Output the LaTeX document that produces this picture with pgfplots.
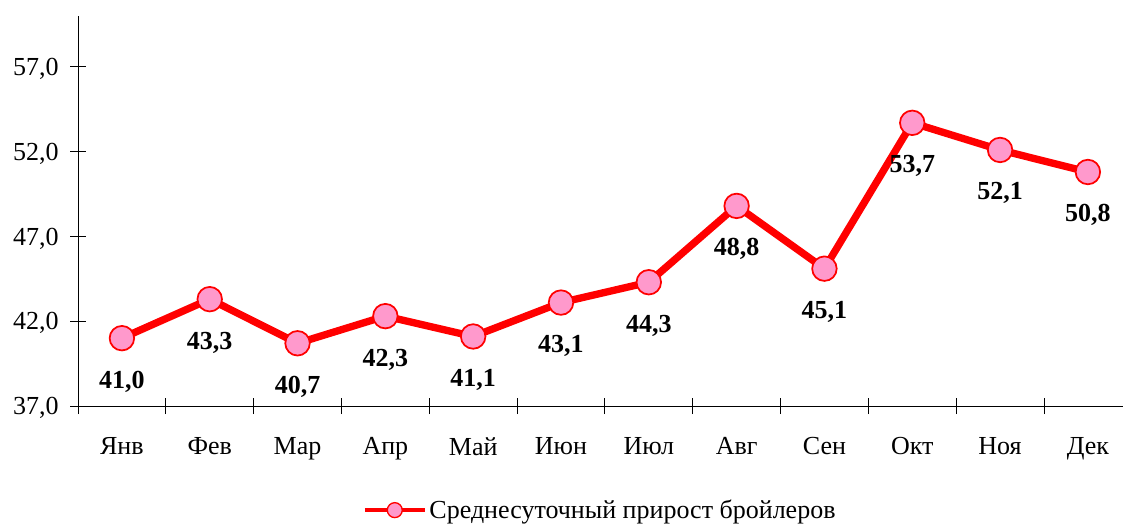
\documentclass[border=0pt]{standalone}
\usepackage{pgfplots}
\pgfplotsset{compat=1.18}
\usepackage{fontspec}
\setmainfont{Liberation Serif}
\definecolor{lred}{HTML}{FF0000}
\definecolor{mpink}{HTML}{FF99CC}
\begin{document}
\begin{tikzpicture}
\useasboundingbox (-58.5pt,-89.25pt) rectangle (783.75pt,304.5pt);
\begin{axis}[
  scale only axis,
  width=783.75pt, height=292.5pt,
  xmin=-0.5, xmax=11.40,
  ymin=37, ymax=60,
  axis lines=left,
  axis line style={-, black, line width=0.7pt},
  xtick={0,...,11},
  xticklabels={Янв,Фев,Мар,Апр,Май,Июн,Июл,Авг,Сен,Окт,Ноя,Дек},
  minor xtick={-0.5,0.5,...,10.5},
  ytick={37,42,47,52,57},
  tick align=center,
  major tick length=12pt,
  minor tick length=12pt,
  major x tick style={draw=none},
  tick style={black, line width=0.7pt},
  every tick label/.append style={font=\rmfamily\fontsize{19.5}{22}\selectfont, text=black},
  xticklabel style={yshift=-14pt},
  yticklabel style={xshift=-5pt, yshift=-1.5pt},
  /pgf/number format/.cd, use comma, fixed, fixed zerofill, precision=1, assume math mode=true,
  /pgfplots/.cd,
  nodes near coords,
  every node near coord/.append style={anchor=center, yshift=-32.5pt, font=\rmfamily\fontsize{19.5}{22}\selectfont\bfseries, text=black},
  legend style={at={(0.5,-0.267)}, anchor=center, draw=none, fill=none, font=\rmfamily\fontsize{19.5}{22}\selectfont, inner sep=0pt},
  legend cell align=left,
  legend image code/.code={\draw[lred, line width=3pt] (0pt,0pt) -- (45pt,0pt); \draw[lred, fill=mpink, line width=1pt] (22.5pt,0pt) circle (5.6pt);},
  clip=false,
]
\addplot[lred, line width=5.5pt, mark=*, mark size=9.2pt, mark options={draw=lred, fill=mpink, line width=1.3pt}]
coordinates {(0,41.0)(1,43.3)(2,40.7)(3,42.3)(4,41.1)(5,43.1)(6,44.3)(7,48.8)(8,45.1)(9,53.7)(10,52.1)(11,50.8)};
\addlegendentry{Среднесуточный прирост бройлеров}
\end{axis}
\end{tikzpicture}
\end{document}
